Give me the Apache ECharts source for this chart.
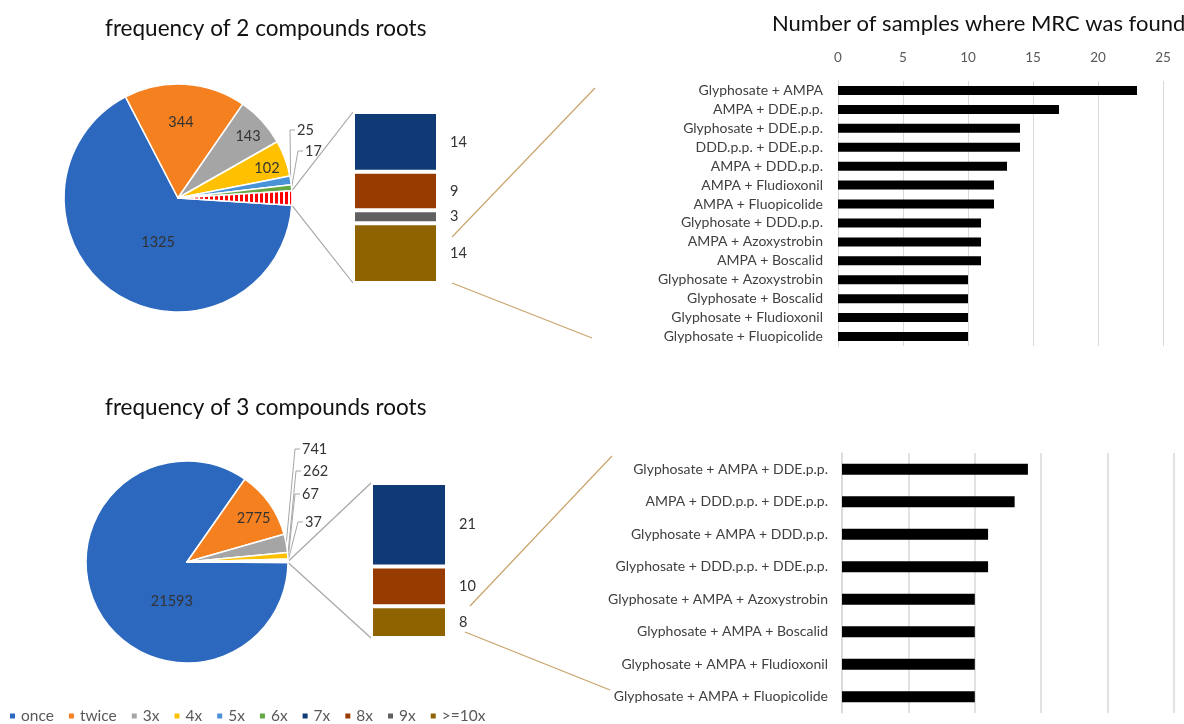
<!DOCTYPE html>
<html><head><meta charset="utf-8">
<script src="https://cdn.jsdelivr.net/npm/echarts@6/dist/echarts.min.js"></script>
<style>html,body{margin:0;padding:0;background:#fff}#c{width:1184px;height:724px}</style>
</head><body><div id="c"></div>
<script>
// ---------------- data ----------------
const freqNames = ['once', 'twice', '3x', '4x', '5x', '6x', '7x', '8x', '9x', '>=10x'];
const pieNames = ['once', 'twice', '3x', '4x', '5x', '6x'];
const stackNames = ['7x', '8x', '9x', '>=10x'];
const pie2Values = [1325, 344, 143, 102, 25, 17];
const stack2Values = [14, 9, 3, 14];
const pie3Values = [21593, 2775, 741, 262, 67, 37];
const stack3Values = [21, 10, 0, 8];
const pairCats = ['Glyphosate + AMPA', 'AMPA + DDE.p.p.', 'Glyphosate + DDE.p.p.', 'DDD.p.p. + DDE.p.p.',
  'AMPA + DDD.p.p.', 'AMPA + Fludioxonil', 'AMPA + Fluopicolide', 'Glyphosate + DDD.p.p.',
  'AMPA + Azoxystrobin', 'AMPA + Boscalid', 'Glyphosate + Azoxystrobin', 'Glyphosate + Boscalid',
  'Glyphosate + Fludioxonil', 'Glyphosate + Fluopicolide'];
const pairValues = [23, 17, 14, 14, 13, 12, 12, 11, 11, 11, 10, 10, 10, 10];
const tripleCats = ['Glyphosate + AMPA + DDE.p.p.', 'AMPA + DDD.p.p. + DDE.p.p.', 'Glyphosate + AMPA + DDD.p.p.',
  'Glyphosate + DDD.p.p. + DDE.p.p.', 'Glyphosate + AMPA + Azoxystrobin', 'Glyphosate + AMPA + Boscalid',
  'Glyphosate + AMPA + Fludioxonil', 'Glyphosate + AMPA + Fluopicolide'];
const tripleValues = [14, 13, 11, 11, 10, 10, 10, 10];
const axisMax = 25, axisStep = 5;

// ---------------- styles ----------------
const colors = {
  'once': '#2c68be', 'twice': '#f5801f', '3x': '#a5a5a5', '4x': '#ffc000', '5x': '#4a92d8',
  '6x': '#62a744', '7x': '#0f3a75', '8x': '#983b00', '9x': '#606060', '>=10x': '#8e6300'
};
const FONT = 'Lato';
const sum = a => a.reduce((s, v) => s + v, 0);

const pc = document.createElement('canvas');
pc.width = 5; pc.height = 5;
const g = pc.getContext('2d');
g.fillStyle = '#ffffff'; g.fillRect(0, 0, 5, 5);
g.fillStyle = '#ff0000'; g.fillRect(0, 0, 3, 5);
const stripe = { image: pc, repeat: 'repeat' };

function pieGeom(values, other) {
  const total = sum(values) + other;
  const half = other / total * 180;
  const mids = [];
  let a = -half;
  values.forEach(v => { const d = v / total * 360; mids.push(a - d / 2); a -= d; });
  return { half, mids };
}

// insideOff: label centre as fraction of radius from the pie centre; outsidePos: [left x, centre y]
function makePie(values, other, cx, cy, r, insideOff, outsidePos) {
  const geo = pieGeom(values, other);
  const data = values.map((v, i) => ({
    name: pieNames[i], value: v,
    itemStyle: { color: colors[pieNames[i]] },
    label: { position: insideOff[i] ? 'inside' : 'outside' },
    labelLine: { show: !insideOff[i] }
  }));
  data.push({ name: 'other', value: other, itemStyle: { color: stripe }, label: { show: false }, labelLine: { show: false } });
  return {
    geo,
    series: {
      type: 'pie', center: [cx, cy], radius: r, startAngle: -geo.half, clockwise: true,
      avoidLabelOverlap: false, silent: true,
      itemStyle: { borderColor: '#fff', borderWidth: 1.5 },
      label: { show: true, formatter: '{c}', fontFamily: FONT, fontSize: 14.5, color: '#333' },
      labelLine: { lineStyle: { color: '#a6a6a6', width: 1 } },
      labelLayout: function (p) {
        const i = p.dataIndex;
        if (i >= values.length) return {};
        if (insideOff[i]) {
          return { x: cx + insideOff[i][0] * r, y: cy + insideOff[i][1] * r, align: 'center', verticalAlign: 'middle' };
        }
        const m = geo.mids[i] * Math.PI / 180;
        const o = outsidePos[i];
        const ex = cx + r * Math.cos(m), ey = cy - r * Math.sin(m);
        return { x: o[0], y: o[1], align: 'left', verticalAlign: 'middle',
          labelLinePoints: [[ex, ey], [o[0] - 7, o[1]], [o[0] - 2, o[1]]] };
      },
      data
    }
  };
}

const P2 = { cx: 178, cy: 198, r: 114 };
const P3 = { cx: 187, cy: 562, r: 101 };
const pie2 = makePie(pie2Values, sum(stack2Values), P2.cx, P2.cy, P2.r,
  [[-0.175, 0.386], [0.026, -0.667], [0.614, -0.544], [0.78, -0.26], null, null],
  { 4: [297, 130], 5: [305, 151] });
const pie3 = makePie(pie3Values, sum(stack3Values), P3.cx, P3.cy, P3.r,
  [[-0.15, 0.39], [0.66, -0.43], null, null, null, null],
  { 2: [302, 449], 3: [303, 471], 4: [302, 494], 5: [305, 522] });

const S2 = { left: 353, top: 112, width: 85, height: 171 };
const S3 = { left: 371, top: 483, width: 76, height: 155 };

function stackSeries(vals, gi) {
  const out = [];
  for (let k = stackNames.length - 1; k >= 0; k--) {
    out.push({
      type: 'bar', name: stackNames[k], xAxisIndex: gi, yAxisIndex: gi, stack: 's' + gi,
      barWidth: '100%', silent: true,
      itemStyle: { color: colors[stackNames[k]], borderColor: '#fff', borderWidth: 2 },
      label: { show: true, position: 'right', distance: 12, fontFamily: FONT, fontSize: 14.5, color: '#333',
        formatter: p => (p.value ? String(p.value) : '') },
      data: [vals[k]]
    });
  }
  return out;
}

function edgeLines(P, geo, S) {
  const a = geo.half * Math.PI / 180;
  const x = P.cx + P.r * Math.cos(a);
  const yTop = P.cy - P.r * Math.sin(a), yBot = P.cy + P.r * Math.sin(a);
  const st = { stroke: '#a6a6a6', lineWidth: 1.2 };
  return [
    { type: 'line', shape: { x1: x, y1: yTop, x2: S.left, y2: S.top }, style: st, silent: true },
    { type: 'line', shape: { x1: x, y1: yBot, x2: S.left, y2: S.top + S.height }, style: st, silent: true }
  ];
}
const tan = { stroke: '#c9a46c', lineWidth: 1.2 };
const titleStyle = { fontFamily: FONT, fontSize: 22.5, fontWeight: 'normal', color: '#111' };

const chart = echarts.init(document.getElementById('c'), null, { renderer: 'canvas' });
chart.setOption({
  animation: false,
  textStyle: { fontFamily: FONT },
  title: [
    { text: 'frequency of 2 compounds roots', left: 100, top: 12, textStyle: titleStyle },
    { text: 'frequency of 3 compounds roots', left: 100, top: 391, textStyle: titleStyle },
    { text: 'Number of samples where MRC was found', left: 767, top: 8, textStyle: Object.assign({}, titleStyle, { fontSize: 22 }) }
  ],
  legend: {
    data: freqNames, left: 8, top: 708, padding: 0, icon: 'rect', itemWidth: 7, itemHeight: 7, itemGap: 13,
    selectedMode: false,
    textStyle: { fontFamily: FONT, fontSize: 15.5, color: '#595959' }
  },
  grid: [
    { left: 838, right: 21, top: 81, height: 265 },
    { left: 842, right: 10, top: 453, height: 260 },
    { left: S2.left, top: S2.top, width: S2.width, height: S2.height },
    { left: S3.left, top: S3.top, width: S3.width, height: S3.height }
  ],
  xAxis: [
    { type: 'value', gridIndex: 0, position: 'top', min: 0, max: axisMax, interval: axisStep,
      axisLine: { show: false }, axisTick: { show: false },
      axisLabel: { fontFamily: FONT, fontSize: 13.5, color: '#595959', margin: 16 },
      splitLine: { lineStyle: { color: '#d9d9d9', width: 1 } } },
    { type: 'value', gridIndex: 1, min: 0, max: axisMax, interval: axisStep,
      axisLine: { show: false }, axisTick: { show: false }, axisLabel: { show: false },
      splitLine: { lineStyle: { color: '#d9d9d9', width: 1.5 } } },
    { type: 'category', gridIndex: 2, data: [''], show: false },
    { type: 'category', gridIndex: 3, data: [''], show: false }
  ],
  yAxis: [
    { type: 'category', gridIndex: 0, data: pairCats, inverse: true,
      axisLine: { show: true, lineStyle: { color: '#d9d9d9' } }, axisTick: { show: false },
      axisLabel: { fontFamily: FONT, fontSize: 14, color: '#404040', margin: 15 } },
    { type: 'category', gridIndex: 1, data: tripleCats, inverse: true,
      axisLine: { show: true, lineStyle: { color: '#d9d9d9', width: 1.5 } }, axisTick: { show: false },
      axisLabel: { fontFamily: FONT, fontSize: 14, color: '#404040', margin: 14 } },
    { type: 'value', gridIndex: 2, min: 0, max: sum(stack2Values), show: false },
    { type: 'value', gridIndex: 3, min: 0, max: sum(stack3Values), show: false }
  ],
  series: [
    pie2.series,
    pie3.series,
    { type: 'bar', xAxisIndex: 0, yAxisIndex: 0, barWidth: 9, itemStyle: { color: '#000' }, silent: true, data: pairValues },
    { type: 'bar', xAxisIndex: 1, yAxisIndex: 1, barWidth: 11, itemStyle: { color: '#000' }, silent: true, data: tripleValues },
    ...stackSeries(stack2Values, 2),
    ...stackSeries(stack3Values, 3)
  ],
  graphic: [
    ...edgeLines(P2, pie2.geo, S2),
    ...edgeLines(P3, pie3.geo, S3),
    { type: 'line', shape: { x1: 452, y1: 237, x2: 595, y2: 88 }, style: tan, silent: true },
    { type: 'line', shape: { x1: 452, y1: 283, x2: 592, y2: 338 }, style: tan, silent: true },
    { type: 'line', shape: { x1: 470, y1: 606, x2: 612, y2: 456 }, style: tan, silent: true },
    { type: 'line', shape: { x1: 465, y1: 632, x2: 610, y2: 690 }, style: tan, silent: true }
  ]
});
</script></body></html>
